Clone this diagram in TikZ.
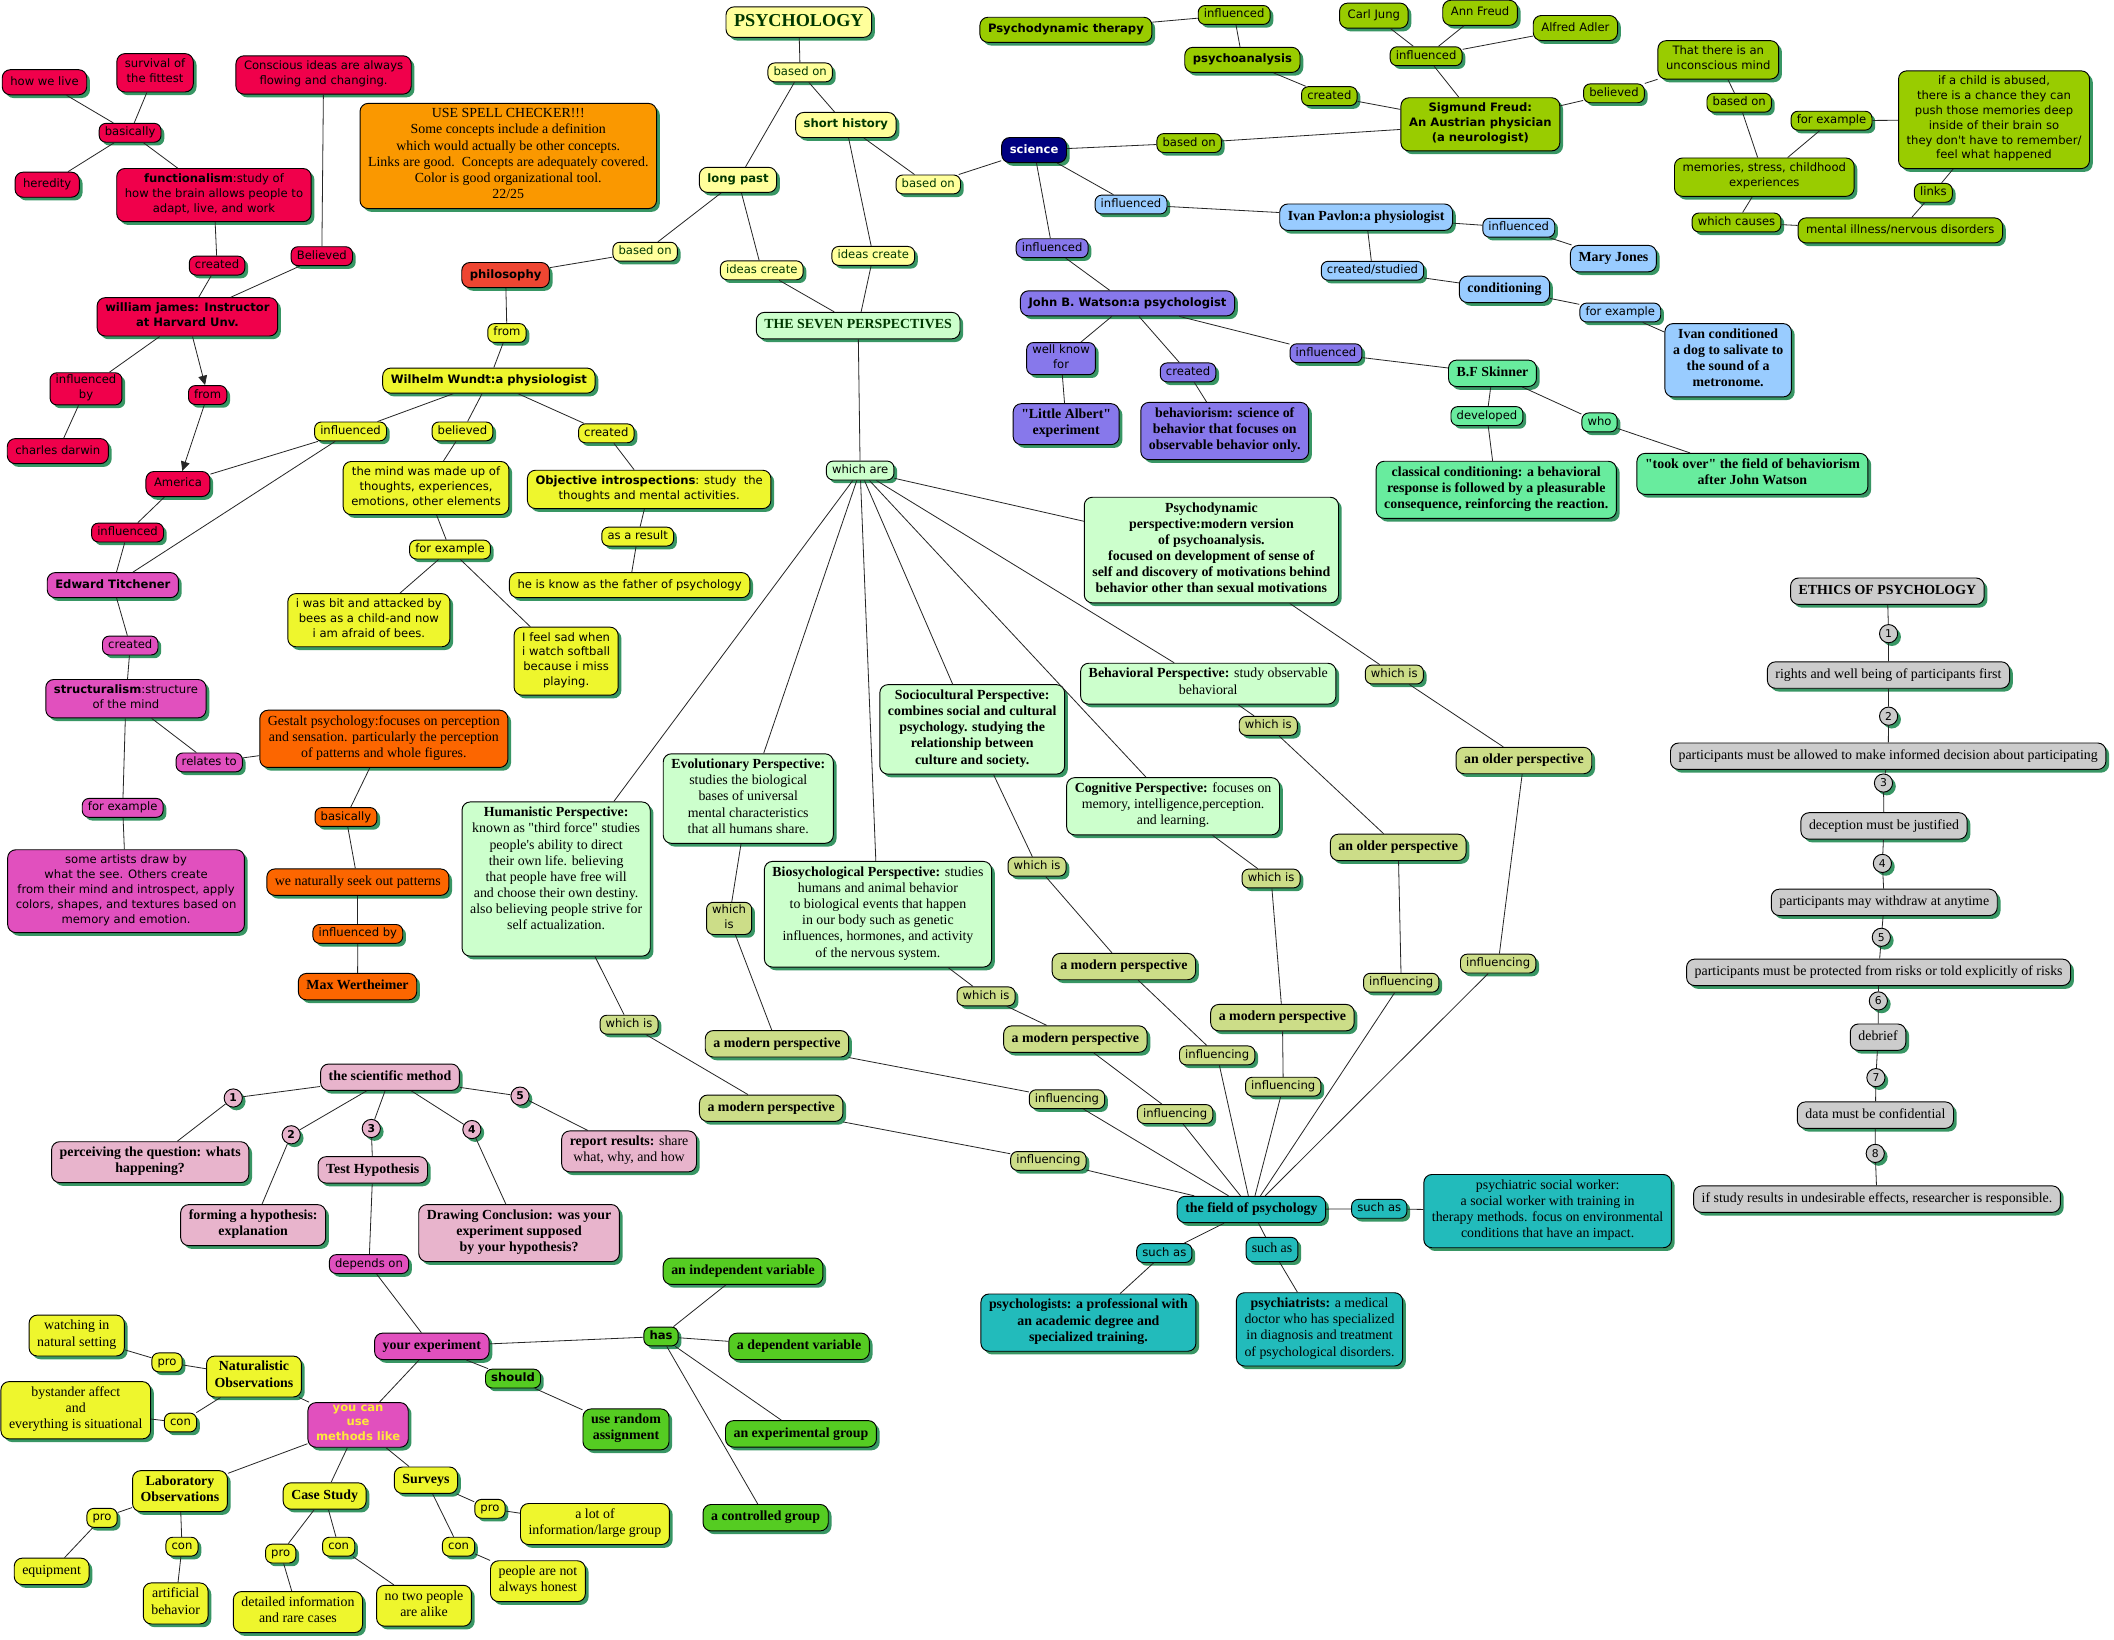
\documentclass[tikz,border=0pt]{standalone}
\usepackage{fontspec}
\setmainfont{Liberation Serif}[Ligatures=TeXOff]
\setsansfont{DejaVu Sans}[Ligatures=TeXOff]
\usetikzlibrary{arrows.meta,shadows}
\definecolor{mapred}{RGB}{240,0,75}
\definecolor{noteorange}{RGB}{250,152,0}
\definecolor{philred}{RGB}{238,70,50}
\definecolor{lightyel}{RGB}{255,255,155}
\definecolor{yel}{RGB}{238,246,45}
\definecolor{limec}{RGB}{153,204,0}
\definecolor{navyc}{RGB}{0,0,128}
\definecolor{skyc}{RGB}{153,204,255}
\definecolor{purpc}{RGB}{135,120,235}
\definecolor{mintc}{RGB}{104,236,158}
\definecolor{palegreen}{RGB}{204,255,204}
\definecolor{olivec}{RGB}{204,221,136}
\definecolor{magc}{RGB}{225,80,190}
\definecolor{gestaltc}{RGB}{252,102,0}
\definecolor{pinkc}{RGB}{232,180,204}
\definecolor{bgreen}{RGB}{85,204,34}
\definecolor{tealc}{RGB}{34,187,187}
\definecolor{grayc}{RGB}{204,204,204}
\definecolor{shadowc}{RGB}{56,150,100}
\definecolor{darkgreen}{RGB}{0,55,0}
\definecolor{youyel}{RGB}{255,232,60}
\tikzset{
  mapshadow/.style={drop shadow={shadow xshift=2.4pt,shadow yshift=-2.4pt,fill=shadowc,opacity=1}},
  box/.style={draw=black,line width=0.7pt,align=center,mapshadow,
    execute at begin node=\strut,execute at end node=\strut},
  cpt/.style={box,rounded corners=6pt,inner xsep=6pt,inner ysep=3.8pt},
  lnk/.style={box,rounded corners=5pt,inner xsep=4.2pt,inner ysep=1.5pt,sans},
  num/.style={draw=black,line width=0.7pt,circle,inner sep=0pt,minimum size=13.5pt,mapshadow,
    font=\sffamily\bfseries\fontsize{8}{9}\selectfont},
  sans/.style={font=\sffamily\fontsize{8.6}{11}\selectfont},
  sansbf/.style={font=\sffamily\bfseries\fontsize{8.6}{11}\selectfont},
  serif/.style={font=\rmfamily\fontsize{10.3}{12}\selectfont},
  serifbf/.style={font=\rmfamily\bfseries\fontsize{10.3}{12}\selectfont},
  conn/.style={draw=black!85,line width=0.6pt}
}

\begin{document}
\begin{tikzpicture}[x=1pt,y=-1pt]
\useasboundingbox (0,0) rectangle (1568,1216);
\fill[white] (0,0) rectangle (1568,1216);

\node[cpt,sans,fill=mapred] (howwelive) at (33,61) {how we live};
\node[cpt,sans,fill=mapred] (survival) at (115,54) {survival of\\the fittest};
\node[lnk,fill=mapred] (rBasically) at (96.5,98.5) {basically};
\node[cpt,sans,fill=mapred] (heredity) at (35,137) {heredity};
\node[cpt,sans,fill=mapred] (functionalism) at (158.7,144.7) {\textbf{functionalism}:study of\\how the brain allows people to\\adapt, live, and work};
\node[cpt,sans,fill=mapred] (conscious) at (240,55.6) {Conscious ideas are always\\flowing and changing.};
\node[cpt,serif,fill=noteorange] (note) at (377,115.7) {USE SPELL CHECKER!!!\\Some concepts include a definition\\which would actually be other concepts.\\Links are good.\ \ Concepts are adequately covered.\\Color is good organizational tool.\\22/25};
\node[lnk,fill=mapred] (rCreated) at (161,197) {created};
\node[lnk,fill=mapred] (rBelieved) at (238.7,190) {Believed};
\node[cpt,sansbf,fill=mapred] (william) at (139,235) {william james: Instructor\\at Harvard Unv.};
\node[lnk,fill=mapred] (rInfluencedby) at (63.8,288.4) {influenced\\by};
\node[lnk,fill=mapred] (rFrom) at (154,293) {from};
\node[cpt,sans,fill=mapred] (darwin) at (42.9,334.6) {charles darwin};
\node[cpt,sans,fill=mapred] (america) at (132,359) {America};
\node[lnk,fill=mapred] (rInfluenced) at (94.6,395) {influenced};

\node[cpt,fill=lightyel,text=darkgreen,font=\rmfamily\bfseries\fontsize{13.5}{15}\selectfont] (psychology) at (592.5,16.4) {PSYCHOLOGY};
\node[lnk,fill=lightyel,text=darkgreen] (basedonA) at (593.5,53.7) {based on};
\node[cpt,sansbf,fill=lightyel,text=darkgreen] (shorthistory) at (627.4,92.7) {short history};
\node[cpt,sansbf,fill=lightyel,text=darkgreen] (longpast) at (547.4,133.4) {long past};
\node[lnk,fill=lightyel,text=darkgreen] (basedonC) at (688.5,136.8) {based on};
\node[cpt,sansbf,fill=navyc,text=white] (science) at (767,111.3) {science};
\node[lnk,fill=lightyel,text=darkgreen] (basedonB) at (478.5,186.7) {based on};
\node[lnk,fill=lightyel,text=darkgreen] (ideasA) at (565,200.5) {ideas create};
\node[lnk,fill=lightyel,text=darkgreen] (ideasB) at (647.7,189.8) {ideas create};
\node[cpt,serifbf,fill=palegreen,text=darkgreen] (sevenpersp) at (636.5,241.5) {THE SEVEN PERSPECTIVES};
\node[cpt,sansbf,fill=philred] (philosophy) at (375,204) {philosophy};
\node[lnk,fill=yel] (yFrom) at (376,247) {from};
\node[cpt,sansbf,fill=yel] (wundt) at (362.6,282.3) {Wilhelm Wundt:a physiologist};
\node[lnk,fill=yel] (wInfluenced) at (260,320) {influenced};
\node[lnk,fill=yel] (wBelieved) at (343,320) {believed};
\node[lnk,fill=yel] (wCreated) at (449.7,321.4) {created};
\node[cpt,sans,fill=yel] (mindmade) at (316,362) {the mind was made up of\\thoughts, experiences,\\emotions, other elements};
\node[cpt,sans,fill=yel] (objective) at (481.5,363) {\textbf{Objective introspections}: study\ \ the\\thoughts and mental activities.};
\node[lnk,fill=yel] (asresult) at (473,398) {as a result};
\node[cpt,sans,fill=yel] (father) at (467,434) {he is know as the father of psychology};
\node[lnk,fill=yel] (yForexample) at (333.8,407.6) {for example};
\node[cpt,sans,fill=yel] (bees) at (273.6,460) {i was bit and attacked by\\bees as a child-and now\\i am afraid of bees.};
\node[cpt,sans,fill=yel] (softball) at (419.9,490.4) {I feel sad when\\i watch softball\\because i miss\\playing.};

\node[cpt,sansbf,fill=magc] (titchener) at (83.7,434) {Edward Titchener};
\node[lnk,fill=magc] (tCreated) at (96.6,478.8) {created};
\node[cpt,sans,fill=magc] (structuralism) at (93.4,518.2) {\textbf{structuralism}:structure\\of the mind};
\node[lnk,fill=magc] (relatesto) at (155.2,565.5) {relates to};
\node[lnk,fill=magc] (tForexample) at (91,599.2) {for example};
\node[cpt,sans,fill=magc] (artists) at (93.5,661) {some artists draw by\\what the see. Others create\\from their mind and introspect, apply\\colors, shapes, and textures based on\\memory and emotion.};
\node[cpt,serif,fill=gestaltc] (gestalt) at (284.7,548) {Gestalt psychology:focuses on perception\\and sensation. particularly the perception\\of patterns and whole figures.};
\node[lnk,fill=gestaltc] (gBasically) at (256.6,606) {basically};
\node[cpt,serif,fill=gestaltc] (seekpatterns) at (265.4,654.3) {we naturally seek out patterns};
\node[lnk,fill=gestaltc] (gInfluencedby) at (265.4,692.7) {influenced by};
\node[cpt,serifbf,fill=gestaltc] (maxw) at (265.2,731.8) {Max Wertheimer};

\node[cpt,sansbf,fill=limec] (psytherapy) at (790.6,22.1) {Psychodynamic therapy};
\node[lnk,fill=limec] (fInfluencedA) at (915.4,11.1) {influenced};
\node[cpt,sansbf,fill=limec] (psychoanalysis) at (921.5,44.4) {psychoanalysis};
\node[lnk,fill=limec] (fCreated) at (986,71.3) {created};
\node[cpt,sans,fill=limec] (carljung) at (1019,11.6) {Carl Jung};
\node[cpt,sans,fill=limec] (annfreud) at (1097.8,9.5) {Ann Freud};
\node[cpt,sans,fill=limec] (alfredadler) at (1168.5,20.8) {Alfred Adler};
\node[lnk,fill=limec] (fInfluencedB) at (1057.8,41.7) {influenced};
\node[cpt,sansbf,fill=limec] (freud) at (1098,92.2) {Sigmund Freud:\\An Austrian physician\\(a neurologist)};
\node[lnk,fill=limec] (fBasedonA) at (882,106.1) {based on};
\node[lnk,fill=limec] (fBelieved) at (1197.1,69.2) {believed};
\node[cpt,sans,fill=limec] (unconscious) at (1274.5,44.4) {That there is an\\unconscious mind};
\node[lnk,fill=limec] (fBasedonB) at (1290,76.2) {based on};
\node[lnk,fill=limec] (fForexample) at (1358.5,89.5) {for example};
\node[cpt,sans,fill=limec] (abused) at (1479,88.8) {if a child is abused,\\there is a chance they can\\push those memories deep\\inside of their brain so\\they don't have to remember/\\feel what happened};
\node[cpt,sans,fill=limec] (memories) at (1308.6,131.4) {memories, stress, childhood\\experiences};
\node[lnk,fill=limec] (links) at (1434,143) {links};
\node[lnk,fill=limec] (whichcauses) at (1288,165) {which causes};
\node[cpt,sans,fill=limec] (mentalillness) at (1409.5,170.9) {mental illness/nervous disorders};

\node[lnk,fill=skyc] (pInfluencedA) at (838.9,151.7) {influenced};
\node[cpt,serifbf,fill=skyc] (pavlov) at (1013.3,161.1) {Ivan Pavlon:a physiologist};
\node[lnk,fill=skyc] (pInfluencedB) at (1126.5,168.9) {influenced};
\node[cpt,serifbf,fill=skyc] (maryjones) at (1196.7,191.8) {Mary Jones};
\node[lnk,fill=skyc] (createdstudied) at (1018,200.8) {created/studied};
\node[cpt,serifbf,fill=skyc] (conditioning) at (1115.9,214.6) {conditioning};
\node[lnk,fill=skyc] (pForexample) at (1201.8,231.8) {for example};
\node[cpt,serifbf,fill=skyc] (dog) at (1281.8,267.2) {Ivan conditioned\\a dog to salivate to\\the sound of a\\metronome.};

\node[lnk,fill=purpc] (wtInfluencedA) at (780.4,184.1) {influenced};
\node[cpt,sansbf,fill=purpc] (watson) at (836.3,225) {John B. Watson:a psychologist};
\node[lnk,fill=purpc] (wellknow) at (787,266) {well know\\for};
\node[lnk,fill=purpc] (wtCreated) at (881.2,276.2) {created};
\node[lnk,fill=purpc] (wtInfluencedB) at (983.5,262) {influenced};
\node[cpt,serifbf,fill=purpc] (littlealbert) at (790.8,314.6) {"Little Albert"\\experiment};
\node[cpt,serifbf,fill=purpc] (behaviorism) at (908.4,319.7) {behaviorism: science of\\behavior that focuses on\\observable behavior only.};
\node[cpt,serifbf,fill=mintc] (skinner) at (1107,276.9) {B.F Skinner};
\node[lnk,fill=mintc] (developed) at (1102.9,308.6) {developed};
\node[lnk,fill=mintc] (who) at (1186.4,313.3) {who};
\node[cpt,serifbf,fill=mintc] (classical) at (1109.8,363.3) {classical conditioning: a behavioral\\response is followed by a pleasurable\\consequence, reinforcing the reaction.};
\node[cpt,serifbf,fill=mintc] (tookover) at (1299.8,351.5) {"took over" the field of behaviorism\\after John Watson};

\node[lnk,fill=palegreen] (whichare) at (638,349) {which are};
\node[cpt,serifbf,fill=palegreen] (psychodynamic) at (898.5,408) {Psychodynamic\\perspective:modern version\\of psychoanalysis.\\focused on development of sense of\\self and discovery of motivations behind\\behavior other than sexual motivations};
\node[cpt,serif,fill=palegreen] (behavioral) at (896.2,507.1) {\textbf{Behavioral Perspective:} study observable\\behavioral};
\node[cpt,serifbf,fill=palegreen] (sociocultural) at (721.1,541) {Sociocultural Perspective:\\combines social and cultural\\psychology. studying the\\relationship between\\culture and society.};
\node[cpt,serif,fill=palegreen] (cognitive) at (870.1,598) {\textbf{Cognitive Perspective:} focuses on\\memory, intelligence,perception.\\and learning.};
\node[cpt,serif,fill=palegreen] (evolutionary) at (555,592.3) {\textbf{Evolutionary Perspective:}\\studies the biological\\bases of universal\\mental characteristics\\that all humans share.};
\node[cpt,serif,fill=palegreen] (humanistic) at (412.5,652) {\textbf{Humanistic Perspective:}\\known as "third force" studies\\people's ability to direct\\their own life. believing\\that people have free will\\and choose their own destiny.\\also believing people strive for\\self actualization.\\ \mbox{}};
\node[cpt,serif,fill=palegreen] (biosych) at (651.2,678.1) {\textbf{Biosychological Perspective:} studies\\humans and animal behavior\\to biological events that happen\\in our body such as genetic\\influences, hormones, and activity\\of the nervous system.};

\node[lnk,fill=olivec] (wiPsychodyn) at (1034.2,500.3) {which is};
\node[lnk,fill=olivec] (wiBehav) at (940.7,538.4) {which is};
\node[lnk,fill=olivec] (wiSocio) at (769.2,642.8) {which is};
\node[lnk,fill=olivec] (wiCog) at (942.8,651.6) {which is};
\node[lnk,fill=olivec] (wiEvol) at (540.8,681.2) {which\\is};
\node[lnk,fill=olivec] (wiBio) at (731.4,739) {which is};
\node[lnk,fill=olivec] (wiHuman) at (466.6,760) {which is};
\node[cpt,serifbf,fill=olivec] (olderPsychodyn) at (1130.3,564.1) {an older perspective};
\node[cpt,serifbf,fill=olivec] (olderBehav) at (1037.1,628.5) {an older perspective};
\node[cpt,serifbf,fill=olivec] (modernSocio) at (833.6,716.9) {a modern perspective};
\node[cpt,serifbf,fill=olivec] (modernCog) at (951.2,754.8) {a modern perspective};
\node[cpt,serifbf,fill=olivec] (modernEvol) at (576.3,774.2) {a modern perspective};
\node[cpt,serifbf,fill=olivec] (modernBio) at (797.6,770.7) {a modern perspective};
\node[cpt,serifbf,fill=olivec] (modernHuman) at (572,822) {a modern perspective};
\node[lnk,fill=olivec] (infPsychodyn) at (1111.2,714.7) {influencing};
\node[lnk,fill=olivec] (infBehav) at (1039.3,728.9) {influencing};
\node[lnk,fill=olivec] (infSocio) at (902.8,782.8) {influencing};
\node[lnk,fill=olivec] (infCog) at (951.8,806) {influencing};
\node[lnk,fill=olivec] (infEvol) at (791.4,815.3) {influencing};
\node[lnk,fill=olivec] (infBio) at (871.6,826.3) {influencing};
\node[lnk,fill=olivec] (infHuman) at (777.6,861.1) {influencing};

\node[cpt,serifbf,fill=tealc] (field) at (928.2,897.1) {the field of psychology};
\node[lnk,fill=tealc] (suchasA) at (1023,896.6) {such as};
\node[cpt,serif,fill=tealc] (socialworker) at (1147.9,898.3) {psychiatric social worker:\\a social worker with training in\\therapy methods. focus on environmental\\conditions that have an impact.};
\node[lnk,fill=tealc] (suchasB) at (863.6,929.4) {such as};
\node[lnk,serif,fill=tealc,inner ysep=3pt] (suchasC) at (943.5,926.8) {such as};
\node[cpt,serifbf,fill=tealc] (psychologists) at (807.3,981) {psychologists: a professional with\\an academic degree and\\specialized training.};
\node[cpt,serif,fill=tealc] (psychiatrists) at (978.7,986) {\textbf{psychiatrists:} a medical\\doctor who has specialized\\in diagnosis and treatment\\of psychological disorders.};

\node[cpt,serifbf,fill=pinkc] (scimethod) at (289.3,799) {the scientific method};
\node[num,fill=pinkc] (nA) at (173,814.4) {1};
\node[num,fill=pinkc] (nB) at (216,841.7) {2};
\node[num,fill=pinkc] (nC) at (275.4,837) {3};
\node[num,fill=pinkc] (nD) at (350,837.8) {4};
\node[num,fill=pinkc] (nE) at (385.7,813) {5};
\node[cpt,serifbf,fill=pinkc] (perceiving) at (111.4,862) {perceiving the question: whats\\happening?};
\node[cpt,serifbf,fill=pinkc] (forming) at (187.8,908.7) {forming a hypothesis:\\explanation};
\node[cpt,serifbf,fill=pinkc] (testhyp) at (276.5,867.7) {Test Hypothesis};
\node[cpt,serifbf,fill=pinkc] (drawing) at (385,914.6) {Drawing Conclusion: was your\\experiment supposed\\by your hypothesis?};
\node[cpt,serif,fill=pinkc] (report) at (466.6,854) {\textbf{report results:} share\\what, why, and how};
\node[lnk,fill=magc] (dependson) at (273.7,937.6) {depends on};
\node[cpt,serifbf,fill=magc] (yourexp) at (320.3,998.6) {your experiment};
\node[lnk,sansbf,fill=bgreen] (has) at (490.3,991.3) {has};
\node[lnk,sansbf,fill=bgreen] (should) at (380.5,1022.5) {should};
\node[cpt,serifbf,fill=bgreen] (randomassign) at (464.3,1060.2) {use random\\assignment};
\node[cpt,serifbf,fill=bgreen] (indepvar) at (551.1,942.9) {an independent variable};
\node[cpt,serifbf,fill=bgreen] (depvar) at (592.7,998.6) {a dependent variable};
\node[cpt,serifbf,fill=bgreen] (expgroup) at (594.1,1063.5) {an experimental group};
\node[cpt,serifbf,fill=bgreen] (ctrlgroup) at (567.9,1125.7) {a controlled group};
\node[cpt,sansbf,fill=magc,text=youyel,inner ysep=1.5pt] (youcan) at (265.6,1056.9) {you can\\use\\methods like};
\node[cpt,serifbf,fill=yel] (naturalistic) at (188.4,1021) {Naturalistic\\Observations};
\node[cpt,serif,fill=yel] (watching) at (56.9,990.6) {watching in\\natural setting};
\node[lnk,fill=yel] (natPro) at (123.9,1010.5) {pro};
\node[cpt,serif,fill=yel] (bystander) at (56.2,1046) {bystander affect\\and\\everything is situational};
\node[lnk,fill=yel] (natCon) at (133.9,1055.1) {con};
\node[cpt,serifbf,fill=yel] (lab) at (133.5,1106) {Laboratory\\Observations};
\node[lnk,fill=yel] (labPro) at (75.7,1125.8) {pro};
\node[cpt,serif,fill=yel] (equipment) at (38.3,1165.5) {equipment};
\node[lnk,fill=yel] (labCon) at (135,1147.2) {con};
\node[cpt,serif,fill=yel] (artificial) at (130.3,1189.3) {artificial\\behavior};
\node[cpt,serifbf,fill=yel] (casestudy) at (240.8,1109.6) {Case Study};
\node[lnk,fill=yel] (csPro) at (208.2,1152.3) {pro};
\node[lnk,fill=yel] (csCon) at (251.2,1147.2) {con};
\node[cpt,serif,fill=yel] (detailed) at (221,1195.7) {detailed information\\and rare cases};
\node[cpt,serif,fill=yel] (notwo) at (314.5,1191) {no two people\\are alike};
\node[cpt,serifbf,fill=yel] (surveys) at (315.9,1097.9) {Surveys};
\node[lnk,fill=yel] (svPro) at (363.4,1119.1) {pro};
\node[lnk,fill=yel] (svCon) at (340.1,1147.2) {con};
\node[cpt,serif,fill=yel] (alot) at (441.3,1130.4) {a lot of\\information/large group};
\node[cpt,serif,fill=yel] (nothonest) at (399,1172.8) {people are not\\always honest};

\node[cpt,serifbf,fill=grayc] (ethics) at (1399.9,438.5) {ETHICS OF PSYCHOLOGY};
\node[num,fill=grayc,font=\sffamily\fontsize{8}{9}\selectfont] (eA) at (1400.8,470) {1};
\node[cpt,serif,fill=grayc] (rights) at (1400.7,500.7) {rights and well being of participants first};
\node[num,fill=grayc,font=\sffamily\fontsize{8}{9}\selectfont] (eB) at (1400.8,531.2) {2};
\node[cpt,serif,fill=grayc] (informed) at (1400.5,560.9) {participants must be allowed to make informed decision about participating};
\node[num,fill=grayc,font=\sffamily\fontsize{8}{9}\selectfont] (eC) at (1397,580.8) {3};
\node[cpt,serif,fill=grayc] (deception) at (1397.4,612.6) {deception must be justified};
\node[num,fill=grayc,font=\sffamily\fontsize{8}{9}\selectfont] (eD) at (1396.2,640.4) {4};
\node[cpt,serif,fill=grayc] (withdraw) at (1397.6,669.3) {participants may withdraw at anytime};
\node[num,fill=grayc,font=\sffamily\fontsize{8}{9}\selectfont] (eE) at (1395.4,695.2) {5};
\node[cpt,serif,fill=grayc] (protected) at (1393.4,721.2) {participants must be protected from risks or told explicitly of risks};
\node[num,fill=grayc,font=\sffamily\fontsize{8}{9}\selectfont] (eF) at (1393.2,742.4) {6};
\node[cpt,serif,fill=grayc] (debrief) at (1393,769.3) {debrief};
\node[num,fill=grayc,font=\sffamily\fontsize{8}{9}\selectfont] (eG) at (1391.4,799.3) {7};
\node[cpt,serif,fill=grayc] (confidential) at (1391,827.1) {data must be confidential};
\node[num,fill=grayc,font=\sffamily\fontsize{8}{9}\selectfont] (eH) at (1390.9,855.5) {8};
\node[cpt,serif,fill=grayc] (undesirable) at (1392.2,889.4) {if study results in undesirable effects, researcher is responsible.};

\foreach \a/\b in {howwelive/rBasically,survival/rBasically,rBasically/heredity,rBasically/functionalism,
  functionalism/rCreated,rCreated/william,conscious/rBelieved,rBelieved/william,
  william/rInfluencedby,rInfluencedby/darwin,america/rInfluenced,rInfluenced/titchener,
  psychology/basedonA,basedonA/longpast,basedonA/shorthistory,longpast/basedonB,basedonB/philosophy,
  longpast/ideasA,ideasA/sevenpersp,shorthistory/ideasB,ideasB/sevenpersp,shorthistory/basedonC,basedonC/science,
  philosophy/yFrom,yFrom/wundt,wundt/wInfluenced,wInfluenced/america,wInfluenced/titchener,
  wundt/wBelieved,wBelieved/mindmade,mindmade/yForexample,yForexample/bees,yForexample/softball,
  wundt/wCreated,wCreated/objective,objective/asresult,asresult/father,
  titchener/tCreated,tCreated/structuralism,structuralism/tForexample,tForexample/artists,
  structuralism/relatesto,relatesto/gestalt,gestalt/gBasically,gBasically/seekpatterns,
  seekpatterns/gInfluencedby,gInfluencedby/maxw}
  \draw[conn] (\a) -- (\b);
\foreach \a/\b in {science/fBasedonA,fBasedonA/freud,freud/fCreated,fCreated/psychoanalysis,
  psychoanalysis/fInfluencedA,fInfluencedA/psytherapy,carljung/fInfluencedB,annfreud/fInfluencedB,
  alfredadler/fInfluencedB,fInfluencedB/freud,freud/fBelieved,fBelieved/unconscious,
  unconscious/fBasedonB,fBasedonB/memories,memories/fForexample,fForexample/abused,abused/links,
  links/mentalillness,memories/whichcauses,whichcauses/mentalillness,
  science/pInfluencedA,pInfluencedA/pavlov,pavlov/pInfluencedB,pInfluencedB/maryjones,
  pavlov/createdstudied,createdstudied/conditioning,conditioning/pForexample,pForexample/dog,
  science/wtInfluencedA,wtInfluencedA/watson,watson/wellknow,wellknow/littlealbert,
  watson/wtCreated,wtCreated/behaviorism,watson/wtInfluencedB,wtInfluencedB/skinner,
  skinner/developed,developed/classical,skinner/who,who/tookover}
  \draw[conn] (\a) -- (\b);
\foreach \p/\w/\m/\i in {psychodynamic/wiPsychodyn/olderPsychodyn/infPsychodyn,
  behavioral/wiBehav/olderBehav/infBehav,sociocultural/wiSocio/modernSocio/infSocio,
  cognitive/wiCog/modernCog/infCog,evolutionary/wiEvol/modernEvol/infEvol,
  biosych/wiBio/modernBio/infBio,humanistic/wiHuman/modernHuman/infHuman}
  \draw[conn] (whichare) -- (\p) -- (\w) -- (\m) -- (\i) -- (field);
\foreach \a/\b in {sevenpersp/whichare,field/suchasA,suchasA/socialworker,field/suchasB,
  suchasB/psychologists,field/suchasC,suchasC/psychiatrists,
  scimethod/nA,nA/perceiving,scimethod/nB,nB/forming,scimethod/nC,nC/testhyp,
  scimethod/nD,nD/drawing,scimethod/nE,nE/report,testhyp/dependson,dependson/yourexp,
  yourexp/has,has/indepvar,has/depvar,has/expgroup,has/ctrlgroup,yourexp/should,
  should/randomassign,yourexp/youcan,youcan/naturalistic,naturalistic/natPro,natPro/watching,
  naturalistic/natCon,natCon/bystander,youcan/lab,lab/labPro,labPro/equipment,lab/labCon,
  labCon/artificial,youcan/casestudy,casestudy/csPro,csPro/detailed,casestudy/csCon,
  csCon/notwo,youcan/surveys,surveys/svPro,svPro/alot,surveys/svCon,svCon/nothonest,
  ethics/eA,eA/rights,rights/eB,eB/informed,informed/eC,eC/deception,deception/eD,
  eD/withdraw,withdraw/eE,eE/protected,protected/eF,eF/debrief,debrief/eG,eG/confidential,
  confidential/eH,eH/undesirable}
  \draw[conn] (\a) -- (\b);
\draw[conn,-{Triangle[length=7pt,width=6.5pt]}] (william) -- (rFrom);
\draw[conn,-{Triangle[length=7pt,width=6.5pt]}] (rFrom) -- (america);
\end{tikzpicture}
\end{document}
